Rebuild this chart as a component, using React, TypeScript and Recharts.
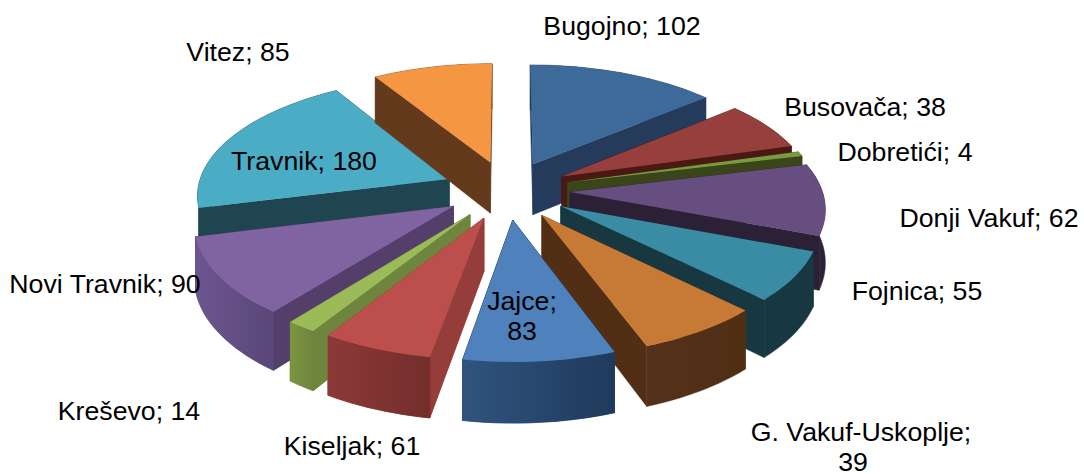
import React from "react";
import { PieChart, Pie } from "recharts";

const municipalities = ["Bugojno","Busovača","Dobretići","Donji Vakuf","Fojnica","G. Vakuf-Uskoplje","Jajce","Kiseljak","Kreševo","Novi Travnik","Travnik","Vitez"];
const counts = [102,38,4,62,55,39,83,61,14,90,180,85];

const topColors = ["#3E6A9A","#973F3D","#7A9A3F","#664E80","#3A8CA4","#C77A35","#4F81BD","#BC4F4C","#9BBB59","#8064A2","#4BACC6","#F59643"];
const cutColors = ["#243B5C","#4A1914","#3A4519","#2B2036","#173840","#522F14","#243F63","#953D3B","#6F853D","#543F6B","#1F4550","#643A1C"];
const outerLeft = ["#243B5C","#4A1914","#3A4519","#3A2C4C","#173840","#55311A","#30547E","#8C3937","#7C9542","#6D5690","#1F4550","#643A1C"];
const outerRight = ["#243B5C","#4A1914","#3A4519","#2B2036","#173840","#502E14","#1F3A5C","#732E2C","#6F853D","#5A4678","#1F4550","#643A1C"];

const labelLines = [["Bugojno; 102"],["Busovača; 38"],["Dobretići; 4"],["Donji Vakuf; 62"],["Fojnica; 55"],["G. Vakuf-Uskoplje;","39"],["Jajce;","83"],["Kiseljak; 61"],["Kreševo; 14"],["Novi Travnik; 90"],["Travnik; 180"],["Vitez; 85"]];
const labelX = [622,865,905,989,917,861,522,352,129,105,304,238];
const labelY = [26,107,152,218,291,432,301,446,411,284,161,52];
const secondLineShift = [0,0,0,0,0,-8,0,0,0,0,0,0];

// How the camera's perspective bends the pie's angles (degrees clockwise from 12 o'clock)
const warpIn = [0,45.2,62,91.2,115.6,132.9,169.7,196.7,202.9,242.8,322.4,360];
const warpOut = [0,50,74,111,135,160,190,212,218,256,328.5,360];

const data = municipalities.map((name, i) => ({ name, value: counts[i] }));

// Camera model of the tilted, exploded 3-D pie
const CX = 507, CY = 190, A = 252, B = 117, K = 0.12, DEPTH = 52, EXPLODE = 0.25;
const rad = (d: number) => (d * Math.PI) / 180;
const warp = (t: number) => {
  for (let i = 1; i < warpIn.length; i++) {
    if (t <= warpIn[i]) {
      const f = (t - warpIn[i - 1]) / (warpIn[i] - warpIn[i - 1]);
      return warpOut[i - 1] + f * (warpOut[i] - warpOut[i - 1]);
    }
  }
  return t;
};
const project = (u: number, v: number, z: number): [number, number] => {
  const s = 1 / (1 - K * v);
  return [CX + A * u * s, CY + B * v * s + z * DEPTH * s];
};
const pathOf = (pts: [number, number][]) =>
  "M" + pts.map((p) => p[0].toFixed(1) + "," + p[1].toFixed(1)).join("L") + "Z";

function Wedge(props: any) {
  const i = municipalities.indexOf(props.name);
  // recharts angles run anticlockwise from 3 o'clock; the model runs clockwise from 12
  const a0 = warp(90 - props.startAngle);
  const a1 = warp(90 - props.endAngle);
  const mid = warp((180 - props.startAngle - props.endAngle) / 2);
  const ou = EXPLODE * Math.sin(rad(mid));
  const ov = -EXPLODE * Math.cos(rad(mid));
  const plane = (t: number): [number, number] => [ou + Math.sin(rad(t)), ov - Math.cos(rad(t))];
  const arc: [number, number][] = [];
  const steps = Math.max(4, Math.ceil((a1 - a0) / 2));
  for (let s = 0; s <= steps; s++) arc.push(plane(a0 + ((a1 - a0) * s) / steps));
  const top = (p: [number, number]) => project(p[0], p[1], 0);
  const bot = (p: [number, number]) => project(p[0], p[1], 1);
  const tip: [number, number] = [ou, ov];
  const strip = (a: [number, number][]) => [...a.map(top), ...[...a].reverse().map(bot)];
  const gid = "outer-" + i;
  const walls = [
    { pts: strip([tip, arc[0]]), fill: cutColors[i] },
    { pts: strip([tip, arc[arc.length - 1]]), fill: cutColors[i] },
    { pts: strip(arc), fill: `url(#${gid})` },
  ];
  const meanY = (pts: [number, number][]) => pts.reduce((acc, p) => acc + p[1], 0) / pts.length;
  walls.sort((x, y) => meanY(x.pts) - meanY(y.pts));
  return (
    <g>
      <defs>
        <linearGradient id={gid} x1="0" y1="0" x2="1" y2="0">
          <stop offset="0%" stopColor={outerLeft[i]} />
          <stop offset="100%" stopColor={outerRight[i]} />
        </linearGradient>
      </defs>
      {walls.map((w, n) => (
        <path key={n} d={pathOf(w.pts)} fill={w.fill} stroke={w.fill} strokeWidth={0.5} />
      ))}
      <path d={pathOf([tip, ...arc].map(top))} fill={topColors[i]} />
    </g>
  );
}

const drawPasses: (string[] | null)[] = [null, ["Novi Travnik"], ["Kreševo"], ["Kiseljak"], ["Jajce"]];

const renderLabel = (props: any) => {
  const i = municipalities.indexOf(props.name);
  return (
    <text key={i} textAnchor="middle" fontFamily="'Liberation Sans', Arial, sans-serif" fontSize={26.7} fill="#000">
      {labelLines[i].map((line, n) => (
        <tspan key={n} x={labelX[i] + (n > 0 ? secondLineShift[i] : 0)} y={labelY[i] + 9 + n * 30}>{line}</tspan>
      ))}
    </text>
  );
};

export default function App() {
  const common = {
    data,
    dataKey: "value",
    nameKey: "name",
    cx: CX,
    cy: CY,
    outerRadius: 100,
    startAngle: 90,
    endAngle: -270,
    stroke: "none",
    isAnimationActive: false,
  };
  return (
    <div style={{ position: "absolute", left: 0, top: 0, width: 1084, height: 474, background: "#fff" }}>
      <PieChart width={1084} height={474} margin={{ top: 0, right: 0, bottom: 0, left: 0 }}>
        {drawPasses.map((only, p) => (
          <Pie
            key={p}
            {...common}
            label={false}
            labelLine={false}
            shape={(s: any) => (only === null || only.includes(s.name) ? <Wedge {...s} /> : <g />)}
          />
        ))}
        <Pie key="labels" {...common} shape={() => <g />} labelLine={false} label={renderLabel} />
      </PieChart>
    </div>
  );
}
